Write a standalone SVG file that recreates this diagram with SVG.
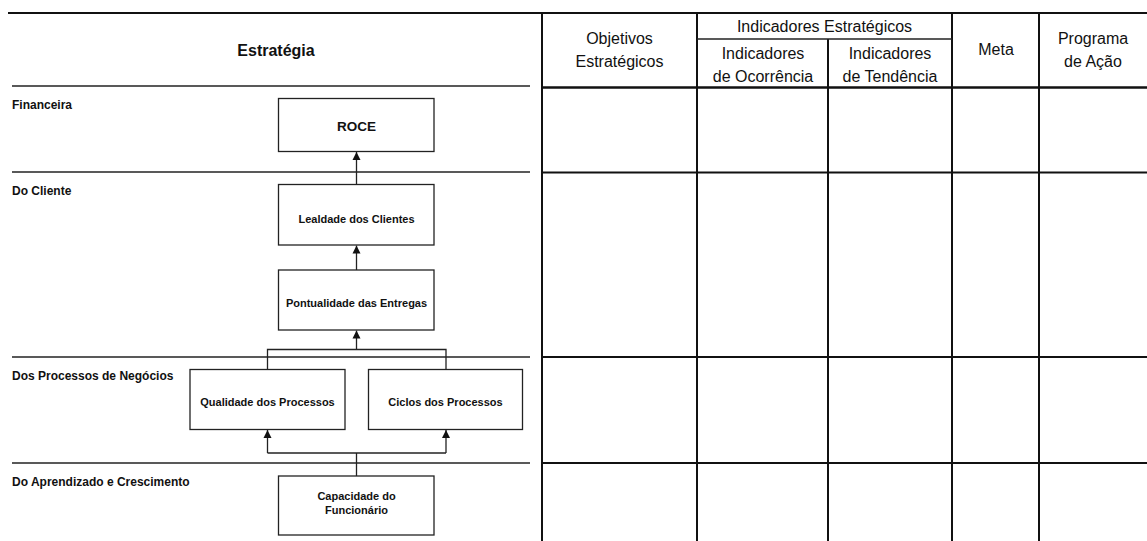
<svg xmlns="http://www.w3.org/2000/svg" width="1147" height="541" viewBox="0 0 1147 541">
  <style>
    text { font-family: "Liberation Sans", Arial, sans-serif; fill: #111; }
    .title { font-size: 16px; font-weight: bold; text-anchor: middle; }
    .band { font-size: 12px; font-weight: bold; }
    .box { fill: #fff; stroke: #222; stroke-width: 1.3; }
    .lbl { font-size: 11px; font-weight: bold; text-anchor: middle; }
    .roce { font-size: 13.5px; font-weight: bold; text-anchor: middle; }
    .hdr { font-size: 16px; text-anchor: middle; }
    .rule { stroke: #222; stroke-width: 1.5; fill: none; }
    .grid { stroke: #111; stroke-width: 2; fill: none; }
    .conn { stroke: #222; stroke-width: 1.3; fill: none; }
  </style>
  <defs>
    <marker id="arrow" viewBox="0 0 8 10" refX="8" refY="5" markerWidth="8" markerHeight="10" markerUnits="userSpaceOnUse" orient="auto">
      <path d="M0,1 L8,5 L0,9 Z" fill="#111"/>
    </marker>
  </defs>
  <rect width="1147" height="541" fill="#fff"/>

  <!-- frame: top rule and perspective band rules -->
  <g id="frame">
    <line class="grid" x1="8" y1="13" x2="1147" y2="13"/>
    <line class="rule" x1="12" y1="86" x2="530" y2="86"/>
    <line class="rule" x1="12" y1="172" x2="530" y2="172"/>
    <line class="rule" x1="12" y1="357" x2="530" y2="357"/>
    <line class="rule" x1="12" y1="463" x2="530" y2="463"/>
    <text class="title" x="276" y="56">Estratégia</text>
  </g>

  <!-- perspective labels -->
  <g id="bands">
    <text class="band" x="12" y="109">Financeira</text>
    <text class="band" x="12" y="195">Do Cliente</text>
    <text class="band" x="12" y="380">Dos Processos de Negócios</text>
    <text class="band" x="12" y="486">Do Aprendizado e Crescimento</text>
  </g>

  <!-- strategy map nodes -->
  <g id="roce">
    <rect class="box" x="278.5" y="98.5" width="155.5" height="53"/>
    <text class="roce" x="356.5" y="131">ROCE</text>
  </g>
  <g id="lealdade">
    <rect class="box" x="278.5" y="184.5" width="155.5" height="60.5"/>
    <text class="lbl" x="356.5" y="223">Lealdade dos Clientes</text>
  </g>
  <g id="pontualidade">
    <rect class="box" x="278.5" y="270" width="155.5" height="60"/>
    <text class="lbl" x="356.5" y="306.5">Pontualidade das Entregas</text>
  </g>
  <g id="qualidade">
    <rect class="box" x="190" y="369.5" width="155" height="60"/>
    <text class="lbl" x="267.5" y="405.5">Qualidade dos Processos</text>
  </g>
  <g id="ciclos">
    <rect class="box" x="368.5" y="369.5" width="154" height="60"/>
    <text class="lbl" x="445.5" y="405.5">Ciclos dos Processos</text>
  </g>
  <g id="capacidade">
    <rect class="box" x="278.5" y="476" width="155.5" height="59"/>
    <text class="lbl" x="356.5" y="500">Capacidade do</text>
    <text class="lbl" x="356.5" y="514">Funcionário</text>
  </g>

  <!-- cause-and-effect connectors -->
  <g id="connectors">
    <line class="conn" x1="356.5" y1="184.5" x2="356.5" y2="152" marker-end="url(#arrow)"/>
    <line class="conn" x1="356.5" y1="270" x2="356.5" y2="245.5" marker-end="url(#arrow)"/>
    <line class="conn" x1="356.5" y1="349.5" x2="356.5" y2="330.5" marker-end="url(#arrow)"/>
    <polyline class="conn" points="267.5,369.5 267.5,349.5 446,349.5 446,369.5"/>
    <line class="conn" x1="267.5" y1="453" x2="267.5" y2="430" marker-end="url(#arrow)"/>
    <line class="conn" x1="446" y1="453" x2="446" y2="430" marker-end="url(#arrow)"/>
    <line class="conn" x1="267.5" y1="453" x2="446" y2="453"/>
    <line class="conn" x1="356.5" y1="453" x2="356.5" y2="476"/>
  </g>

  <!-- objectives / indicators table -->
  <g id="table">
    <line class="grid" x1="542" y1="13" x2="542" y2="541"/>
    <line class="grid" x1="697" y1="13" x2="697" y2="541"/>
    <line class="grid" x1="828" y1="39" x2="828" y2="541"/>
    <line class="grid" x1="952" y1="13" x2="952" y2="541"/>
    <line class="grid" x1="1039" y1="13" x2="1039" y2="541"/>
    <line class="rule" x1="697" y1="39" x2="952" y2="39"/>
    <line class="grid" x1="542" y1="87.5" x2="1147" y2="87.5" style="stroke-width:2.5"/>
    <line class="grid" x1="542" y1="172.5" x2="1147" y2="172.5"/>
    <line class="grid" x1="542" y1="357" x2="1147" y2="357"/>
    <line class="grid" x1="542" y1="463" x2="1147" y2="463"/>
    <text class="hdr" x="619.5" y="44">Objetivos</text>
    <text class="hdr" x="619.5" y="66.5">Estratégicos</text>
    <text class="hdr" x="824.5" y="32">Indicadores Estratégicos</text>
    <text class="hdr" x="763" y="59">Indicadores</text>
    <text class="hdr" x="763" y="81.5">de Ocorrência</text>
    <text class="hdr" x="890" y="59">Indicadores</text>
    <text class="hdr" x="890" y="81.5">de Tendência</text>
    <text class="hdr" x="996" y="55">Meta</text>
    <text class="hdr" x="1093" y="44">Programa</text>
    <text class="hdr" x="1093" y="66.5">de Ação</text>
  </g>
</svg>
